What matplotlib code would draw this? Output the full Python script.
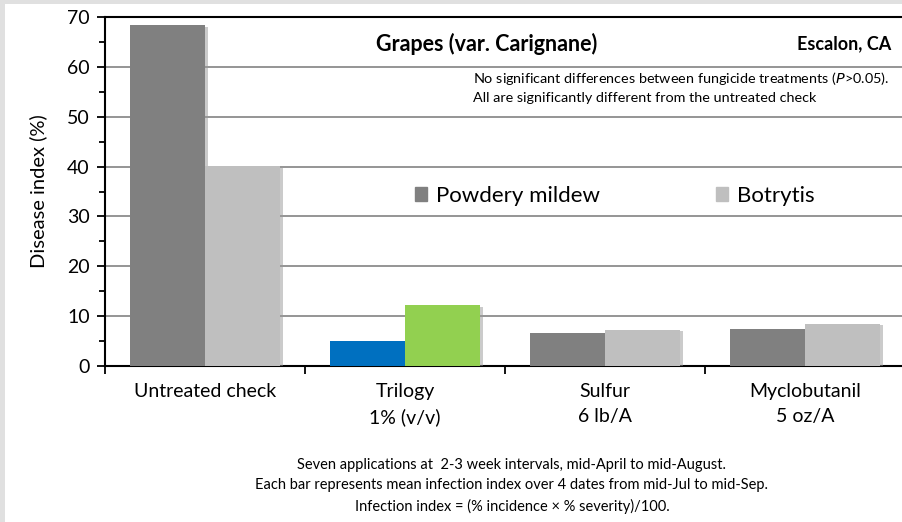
import numpy as np
import matplotlib
matplotlib.use("Agg")
import matplotlib.pyplot as plt
from matplotlib.patches import Rectangle
import matplotlib.patheffects as pe

plt.rcParams['font.family'] = ['Lato', 'DejaVu Sans']

# data
categories = ["Untreated check", "Trilogy\n1% (v/v)", "Sulfur\n6 lb/A", "Myclobutanil\n5 oz/A"]
powdery_mildew = [68.3, 5.0, 6.6, 7.5]
botrytis = [40.2, 12.2, 7.3, 8.5]
pm_colors = ["#808080", "#0070C0", "#808080", "#808080"]
bot_colors = ["#BFBFBF", "#92D050", "#BFBFBF", "#BFBFBF"]

fig = plt.figure(figsize=(9.03, 5.22), dpi=100, facecolor="#e0e0e0")
# white page inside the grey frame
fig.patches.append(Rectangle((5 / 903, -0.5), 2, 1.5 - 4 / 522, transform=fig.transFigure,
                             facecolor="white", edgecolor="none", zorder=-5))
ax = fig.add_axes([105 / 903, 1 - 366 / 522, 800 / 903, 349 / 522])
ax.set_facecolor("none")

x = np.arange(len(categories))
w = 0.375
shadow = [pe.SimplePatchShadow(offset=(2, -1), shadow_rgbFace="#999999", alpha=0.5), pe.Normal()]
b1 = ax.bar(x - w / 2, powdery_mildew, w, color=pm_colors, zorder=3)
b2 = ax.bar(x + w / 2, botrytis, w, color=bot_colors, zorder=3)
for p in list(b1) + list(b2):
    p.set_path_effects(shadow)

ax.set_xlim(-0.5, len(categories) - 0.5)
ax.set_ylim(0, 70)
ax.set_yticks(np.arange(0, 71, 10))
ax.set_yticks(np.arange(5, 70, 10), minor=True)
ax.yaxis.grid(True, color="#8c8c8c", linewidth=1.3, zorder=1)
ax.set_axisbelow(True)
ax.set_xticks(np.arange(len(categories) + 1) - 0.5)
ax.set_xticklabels([])
ax.set_xticks(x, minor=True)
ax.set_xticklabels(categories, minor=True, fontsize=14, linespacing=1.6)
ax.tick_params(axis="x", which="major", length=6, width=1.3, direction="out")
ax.tick_params(axis="x", which="minor", length=0, pad=12)
ax.tick_params(axis="y", which="major", length=6, width=1.3, labelsize=14, pad=5)
ax.tick_params(axis="y", which="minor", length=4, width=1.3)
for s in ["left", "bottom", "top"]:
    ax.spines[s].set_color("black")
    ax.spines[s].set_linewidth(1.5)
ax.spines["right"].set_visible(False)
ax.set_ylabel("Disease index (%)", fontsize=14.5, labelpad=14)

ax.text(0.477, 0.922, "Grapes (var. Carignane)", transform=ax.transAxes, fontsize=15.5,
        fontweight="bold", ha="center", va="center")
ax.text(0.983, 0.922, "Escalon, CA", transform=ax.transAxes, fontsize=13,
        fontweight="bold", ha="right", va="center")
ax.text(0.46, 0.8, "No significant differences between fungicide treatments ($\\it{P}$>0.05).\n"
        "All are significantly different from the untreated check", transform=ax.transAxes,
        fontsize=10.4, ha="left", va="center", linespacing=1.55)

leg = ax.legend([b1[0], b2[0]], ["Powdery mildew", "Botrytis"], loc="center",
                bbox_to_anchor=(0.637, 0.488), ncol=2, frameon=False, fontsize=16,
                handlelength=0.55, handleheight=0.55, handletextpad=0.4, columnspacing=5.2)
leg.legend_handles[0].set_color("#808080")
leg.legend_handles[1].set_color("#BFBFBF")
for h in leg.legend_handles:
    h.set_path_effects([])

fig.text(512 / 903, 1 - 486 / 522,
         "Seven applications at  2-3 week intervals, mid-April to mid-August.\n"
         "Each bar represents mean infection index over 4 dates from mid-Jul to mid-Sep.\n"
         "Infection index = (% incidence \u00d7 % severity)/100.",
         ha="center", va="center", fontsize=10.5, linespacing=1.6)

fig.savefig("out.png", dpi=100, facecolor=fig.get_facecolor())
